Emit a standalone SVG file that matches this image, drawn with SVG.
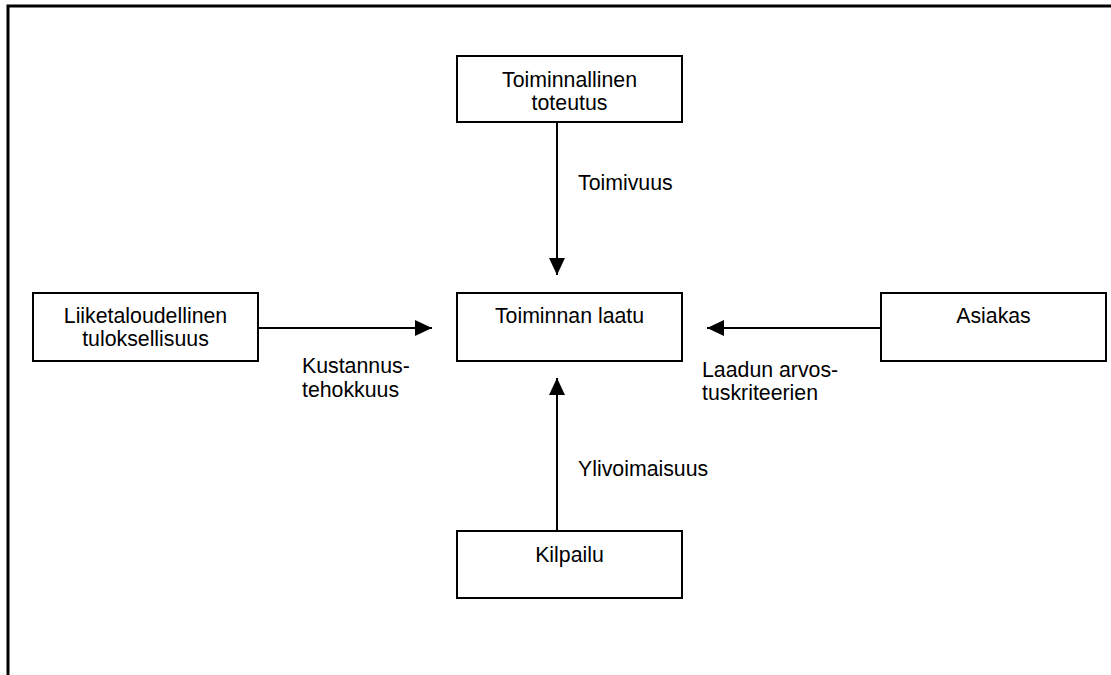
<svg xmlns="http://www.w3.org/2000/svg" width="1111" height="675" viewBox="0 0 1111 675">
<style>
.box{fill:#fff;stroke:#000;stroke-width:2}
.t{font-family:"Liberation Sans",Arial,sans-serif;font-size:21.3px;fill:#000}
.c{text-anchor:middle}
.ln{stroke:#000;stroke-width:2;fill:none}
</style>
<defs>
<marker id="ah" viewBox="0 0 17 16" refX="17" refY="8" markerWidth="17" markerHeight="16" markerUnits="userSpaceOnUse" orient="auto">
<path d="M0,0 L17,8 L0,16 Z" fill="#000"/>
</marker>
</defs>
<rect width="1111" height="675" fill="#fff"/>
<g id="frame">
<path d="M8,675 L8,6 L1111,6" stroke="#000" stroke-width="3" fill="none"/>
</g>
<g id="connectors">
<line class="ln" x1="557" y1="122" x2="557" y2="275" marker-end="url(#ah)"/>
<line class="ln" x1="557" y1="531" x2="557" y2="378" marker-end="url(#ah)"/>
<line class="ln" x1="258" y1="328" x2="432" y2="328" marker-end="url(#ah)"/>
<line class="ln" x1="881" y1="328" x2="707" y2="328" marker-end="url(#ah)"/>
<text class="t" x="578" y="190">Toimivuus</text>
<text class="t" x="302" y="373">Kustannus-</text>
<text class="t" x="302" y="397">tehokkuus</text>
<text class="t" x="702" y="377">Laadun arvos-</text>
<text class="t" x="702" y="400">tuskriteerien</text>
<text class="t" x="578" y="476">Ylivoimaisuus</text>
</g>
<g id="toteutus">
<rect class="box" x="457" y="56" width="225" height="66"/>
<text class="t c" x="569.5" y="87">Toiminnallinen</text>
<text class="t c" x="569.5" y="110">toteutus</text>
</g>
<g id="laatu">
<rect class="box" x="457" y="293" width="225" height="68"/>
<text class="t c" x="569.5" y="323">Toiminnan laatu</text>
</g>
<g id="liiketalous">
<rect class="box" x="33" y="293" width="225" height="68"/>
<text class="t c" x="145.5" y="323">Liiketaloudellinen</text>
<text class="t c" x="145.5" y="346">tuloksellisuus</text>
</g>
<g id="asiakas">
<rect class="box" x="881" y="293" width="225" height="68"/>
<text class="t c" x="993.5" y="323">Asiakas</text>
</g>
<g id="kilpailu">
<rect class="box" x="457" y="531" width="225" height="67"/>
<text class="t c" x="569.5" y="562">Kilpailu</text>
</g>
</svg>
